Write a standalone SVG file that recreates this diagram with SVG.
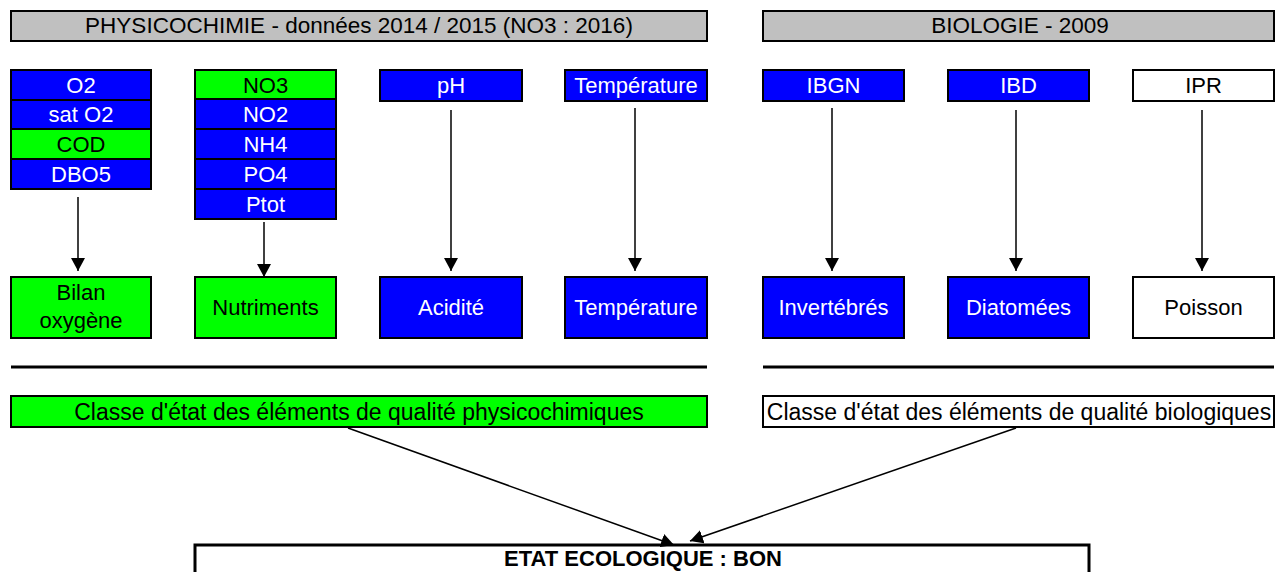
<svg xmlns="http://www.w3.org/2000/svg" width="1277" height="572" viewBox="0 0 1277 572">
  <style>
    text { font-family: "Liberation Sans", Arial, sans-serif; font-size: 22px; text-anchor: middle; }
    .big { font-size: 22.5px; }
    .cls { font-size: 23px; }
    .box { stroke: #000; stroke-width: 2; }
    .hdr { fill: #c0c0c0; }
    .g { fill: #00ff00; }
    .b { fill: #0000ff; }
    .w { fill: #ffffff; }
    .tw { fill: #ffffff; }
    .tk { fill: #000000; }
    .rule { stroke: #000; stroke-width: 3; }
    .conn { stroke: #000; stroke-width: 1.5; fill: none; }
  </style>
  <defs>
    <marker id="arrow" markerUnits="userSpaceOnUse" markerWidth="13" markerHeight="14" refX="13" refY="7" orient="auto">
      <path d="M0,0 L13,7 L0,14 z" fill="#000"/>
    </marker>
  </defs>

  <!-- section headers -->
  <g id="header-physico">
    <rect class="box hdr" x="11" y="11" width="696" height="30"/>
    <text class="tk big" x="359" y="33">PHYSICOCHIMIE - données 2014 / 2015 (NO3 : 2016)</text>
  </g>
  <g id="header-bio">
    <rect class="box hdr" x="763" y="11" width="511" height="30"/>
    <text class="tk big" x="1020" y="33">BIOLOGIE - 2009</text>
  </g>

  <!-- parameter stacks -->
  <g id="params-oxygen">
    <rect class="box b" x="11" y="70" width="140" height="30"/>
    <text class="tw" x="81" y="92.5">O2</text>
    <rect class="box b" x="11" y="100" width="140" height="29"/>
    <text class="tw" x="81" y="122">sat O2</text>
    <rect class="box g" x="11" y="129" width="140" height="30"/>
    <text class="tk" x="81" y="151.5">COD</text>
    <rect class="box b" x="11" y="159" width="140" height="30"/>
    <text class="tw" x="81" y="181.5">DBO5</text>
  </g>
  <g id="params-nutrients">
    <rect class="box g" x="195" y="70" width="141" height="29"/>
    <text class="tk" x="265.5" y="92.5">NO3</text>
    <rect class="box b" x="195" y="99" width="141" height="30"/>
    <text class="tw" x="265.5" y="122">NO2</text>
    <rect class="box b" x="195" y="129" width="141" height="30"/>
    <text class="tw" x="265.5" y="151.5">NH4</text>
    <rect class="box b" x="195" y="159" width="141" height="30"/>
    <text class="tw" x="265.5" y="181.5">PO4</text>
    <rect class="box b" x="195" y="189" width="141" height="30"/>
    <text class="tw" x="265.5" y="211.5">Ptot</text>
  </g>
  <g id="param-ph">
    <rect class="box b" x="380" y="70" width="142" height="31"/>
    <text class="tw" x="451" y="93">pH</text>
  </g>
  <g id="param-temp">
    <rect class="box b" x="565" y="70" width="142" height="31"/>
    <text class="tw" x="636" y="93">Température</text>
  </g>
  <g id="param-ibgn">
    <rect class="box b" x="763" y="70" width="141" height="31"/>
    <text class="tw" x="833.5" y="93">IBGN</text>
  </g>
  <g id="param-ibd">
    <rect class="box b" x="948" y="70" width="141" height="31"/>
    <text class="tw" x="1018.5" y="93">IBD</text>
  </g>
  <g id="param-ipr">
    <rect class="box w" x="1133" y="70" width="141" height="31"/>
    <text class="tk" x="1203.5" y="93">IPR</text>
  </g>

  <!-- quality elements -->
  <g id="elem-oxygen">
    <rect class="box g" x="11" y="277" width="140" height="61"/>
    <text class="tk" x="81" y="299.5">Bilan</text>
    <text class="tk" x="81" y="328">oxygène</text>
  </g>
  <g id="elem-nutrients">
    <rect class="box g" x="195" y="277" width="141" height="61"/>
    <text class="tk" x="265.5" y="315">Nutriments</text>
  </g>
  <g id="elem-acidity">
    <rect class="box b" x="380" y="277" width="142" height="61"/>
    <text class="tw" x="451" y="315">Acidité</text>
  </g>
  <g id="elem-temp">
    <rect class="box b" x="565" y="277" width="142" height="61"/>
    <text class="tw" x="636" y="315">Température</text>
  </g>
  <g id="elem-invert">
    <rect class="box b" x="763" y="277" width="141" height="61"/>
    <text class="tw" x="833.5" y="315">Invertébrés</text>
  </g>
  <g id="elem-diatom">
    <rect class="box b" x="948" y="277" width="141" height="61"/>
    <text class="tw" x="1018.5" y="315">Diatomées</text>
  </g>
  <g id="elem-fish">
    <rect class="box w" x="1133" y="277" width="141" height="61"/>
    <text class="tk" x="1203.5" y="315">Poisson</text>
  </g>

  <!-- separators -->
  <line class="rule" x1="11" y1="367" x2="707" y2="367"/>
  <line class="rule" x1="763" y1="367" x2="1274" y2="367"/>

  <!-- class summaries -->
  <g id="class-physico">
    <rect class="box g" x="11" y="396" width="696" height="31"/>
    <text class="tk cls" x="359" y="419.5">Classe d'état des éléments de qualité physicochimiques</text>
  </g>
  <g id="class-bio">
    <rect class="box w" x="763" y="396" width="511" height="31"/>
    <text class="tk cls" x="1019" y="419.5">Classe d'état des éléments de qualité biologiques</text>
  </g>

  <!-- overall status -->
  <g id="etat">
    <rect x="195" y="545" width="894" height="40" fill="#fff" stroke="#000" stroke-width="3"/>
    <text class="tk" x="643" y="566" font-weight="bold">ETAT ECOLOGIQUE : BON</text>
  </g>

  <!-- connectors -->
  <g id="connectors">
    <line class="conn" x1="78" y1="197" x2="78" y2="271" marker-end="url(#arrow)"/>
    <line class="conn" x1="264" y1="222" x2="264" y2="277" marker-end="url(#arrow)"/>
    <line class="conn" x1="451" y1="110" x2="451" y2="271" marker-end="url(#arrow)"/>
    <line class="conn" x1="635" y1="108" x2="635" y2="271" marker-end="url(#arrow)"/>
    <line class="conn" x1="832" y1="108" x2="832" y2="271" marker-end="url(#arrow)"/>
    <line class="conn" x1="1016" y1="110" x2="1016" y2="271" marker-end="url(#arrow)"/>
    <line class="conn" x1="1202" y1="110" x2="1202" y2="271" marker-end="url(#arrow)"/>
    <line class="conn" x1="348" y1="428" x2="674" y2="545" marker-end="url(#arrow)"/>
    <line class="conn" x1="1016" y1="428" x2="690" y2="541" marker-end="url(#arrow)"/>
  </g>
</svg>
